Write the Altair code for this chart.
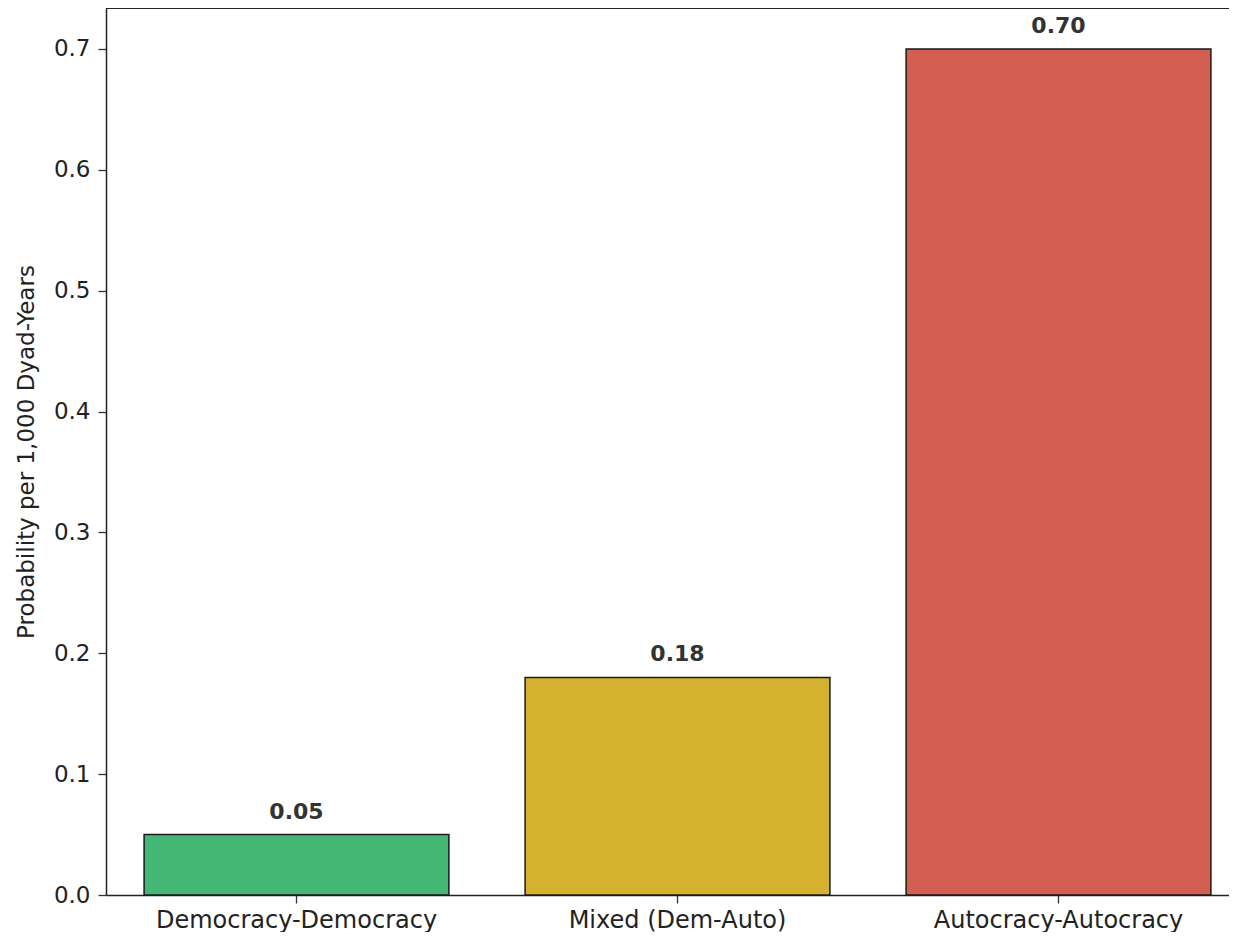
import altair as alt
import pandas as pd

categories = ["Democracy-Democracy", "Mixed (Dem-Auto)", "Autocracy-Autocracy"]
values = [0.05, 0.18, 0.70]
colors = ["#44B775", "#D4B12E", "#D25F51"]

df = pd.DataFrame({"pair": categories, "prob": values, "color": colors})

FONT = "DejaVu Sans"
LINE = "#222"
VIEW_W = 1123
VIEW_H = 887

base = alt.Chart(df).encode(
    x=alt.X(
        "pair:N",
        sort=categories,
        title=None,
        scale=alt.Scale(paddingInner=0.2, paddingOuter=0.1, range=[0, 1143]),
        axis=alt.Axis(
            labelAngle=0,
            labelFontSize=24,
            labelColor="#222",
            labelFont=FONT,
            labelPadding=5,
            labelLimit=500,
            tickSize=8,
            tickColor="#333",
            tickWidth=1.3,
            domain=True,
            domainColor=LINE,
            domainWidth=1.5,
        ),
    ),
    y=alt.Y(
        "prob:Q",
        title="Probability per 1,000 Dyad-Years",
        scale=alt.Scale(domain=[0, 0.7339], nice=False, zero=True),
        axis=alt.Axis(
            values=[0, 0.1, 0.2, 0.3, 0.4, 0.5, 0.6, 0.7],
            format=".1f",
            labelFontSize=23,
            labelColor="#222",
            labelFont=FONT,
            labelPadding=8,
            tickSize=8,
            tickColor="#333",
            tickWidth=1.3,
            grid=False,
            domain=True,
            domainColor=LINE,
            domainWidth=1.5,
            titleFontSize=23,
            titleFont=FONT,
            titleFontWeight="normal",
            titleColor="#222",
            titlePadding=15,
        ),
    ),
)

bars = base.mark_bar(stroke="#1a1a1a", strokeWidth=1.5).encode(
    color=alt.Color("color:N", scale=None)
)

labels = base.mark_text(
    baseline="alphabetic",
    dy=-16,
    fontSize=22,
    fontWeight="bold",
    font="DejaVu Sans",
    color="#333",
).encode(text=alt.Text("prob:Q", format=".2f"))

top_line = alt.Chart(df).mark_rule(color=LINE, strokeWidth=1.5).encode(
    x=alt.value(0), x2=alt.value(VIEW_W + 20), y=alt.value(0)
)

chart = (
    alt.layer(bars, labels, top_line)
    .properties(
        width=VIEW_W,
        height=VIEW_H,
        autosize=alt.AutoSizeParams(type="none"),
        padding={"left": 98, "top": 0, "right": 0, "bottom": 37},
    )
    .configure_view(stroke=None)
)

chart.save("out.html", embed_options={"renderer": "svg", "actions": False})
